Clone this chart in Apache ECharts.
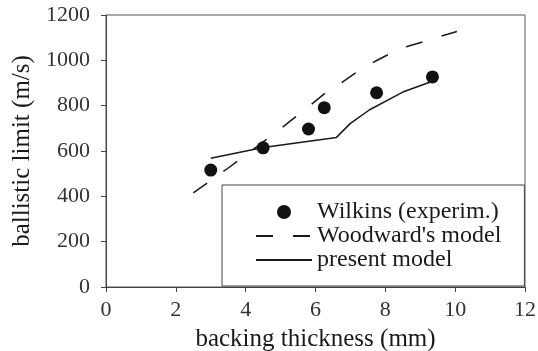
<!DOCTYPE html>
<html>
<head>
<meta charset="utf-8">
<script src="https://cdn.jsdelivr.net/npm/echarts@6/dist/echarts.min.js"></script>
<style>
  html, body { margin: 0; padding: 0; background: #fff; }
  #chart { width: 538px; height: 351px; }
</style>
</head>
<body>
<div id="chart"></div>
<script>
// data
var xTicks = [0, 2, 4, 6, 8, 10, 12];
var yTicks = [0, 200, 400, 600, 800, 1000, 1200];

var wilkinsX = [3.0, 4.5, 5.8, 6.25, 7.75, 9.35];
var wilkinsY = [516, 614, 697, 791, 857, 927];

var woodwardX = [2.5, 3.0, 3.5, 3.9, 4.5, 4.9, 5.3, 5.8, 6.3, 6.75, 7.2, 7.7, 8.2, 8.6, 9.1, 9.55, 10.05];
var woodwardY = [415, 470, 525, 570, 640, 685, 735, 795, 858, 902, 950, 995, 1035, 1060, 1083, 1105, 1127];

var presentX = [3.0, 4.5, 6.6, 7.0, 7.55, 8.5, 9.35];
var presentY = [568, 615, 660, 722, 782, 860, 908];

var names = ['Wilkins (experim.)', "Woodward's model", 'present model'];

function pairs(xs, ys) {
    return xs.map(function (x, i) { return [x, ys[i]]; });
}

var font = '"Liberation Serif", "DejaVu Serif", serif';
var ink = '#1a1a1a';

var chart = echarts.init(document.getElementById('chart'));
chart.setOption({
    animation: false,
    grid: {
        left: 106, right: 13, top: 15, bottom: 64,
        outerBoundsMode: 'none',
        containLabel: false,
        show: true, borderColor: '#555', borderWidth: 1
    },
    xAxis: {
        type: 'value',
        min: xTicks[0], max: xTicks[xTicks.length - 1], interval: 2,
        name: 'backing thickness (mm)',
        nameLocation: 'middle', nameGap: 40,
        nameTextStyle: { fontFamily: font, fontSize: 25, color: ink },
        axisLine: { show: true, lineStyle: { color: '#444', width: 1 } },
        axisTick: { show: true, length: 5, inside: false, lineStyle: { color: '#444' } },
        axisLabel: { fontFamily: font, fontSize: 22, color: '#333', margin: 12 },
        splitLine: { show: false }
    },
    yAxis: {
        type: 'value',
        min: yTicks[0], max: yTicks[yTicks.length - 1], interval: 200,
        name: 'ballistic limit (m/s)',
        nameLocation: 'middle', nameGap: 68,
        nameTextStyle: { fontFamily: font, fontSize: 25, color: ink },
        axisLine: { show: true, lineStyle: { color: '#444', width: 1 } },
        axisTick: { show: true, length: 5, inside: false, lineStyle: { color: '#444' } },
        axisLabel: {
            fontFamily: font, fontSize: 22, color: '#333', margin: 16,
            formatter: function (v) { return String(v); }
        },
        splitLine: { show: false }
    },
    legend: {
        orient: 'vertical',
        left: 222, top: 185,
        padding: [15, 23, 14, 33],
        itemGap: 0,
        itemWidth: 56, itemHeight: 14,
        borderColor: '#444', borderWidth: 1,
        backgroundColor: '#fff',
        textStyle: { fontFamily: font, fontSize: 24, color: ink },
        data: [
            { name: names[0] },
            { name: names[1], itemStyle: { opacity: 0 } },
            { name: names[2], itemStyle: { opacity: 0 } }
        ]
    },
    series: [
        {
            name: names[1],
            type: 'line',
            data: pairs(woodwardX, woodwardY),
            showSymbol: false, symbol: 'none',
            lineStyle: { color: ink, width: 1.5, type: [17, 20] },
            itemStyle: { color: ink },
            z: 2
        },
        {
            name: names[2],
            type: 'line',
            data: pairs(presentX, presentY),
            showSymbol: false, symbol: 'none',
            lineStyle: { color: ink, width: 1.5 },
            itemStyle: { color: ink },
            z: 2
        },
        {
            name: names[0],
            type: 'scatter',
            data: pairs(wilkinsX, wilkinsY),
            symbol: 'circle', symbolSize: 13,
            itemStyle: { color: '#111', opacity: 1 },
            z: 3
        }
    ]
});
</script>
</body>
</html>
